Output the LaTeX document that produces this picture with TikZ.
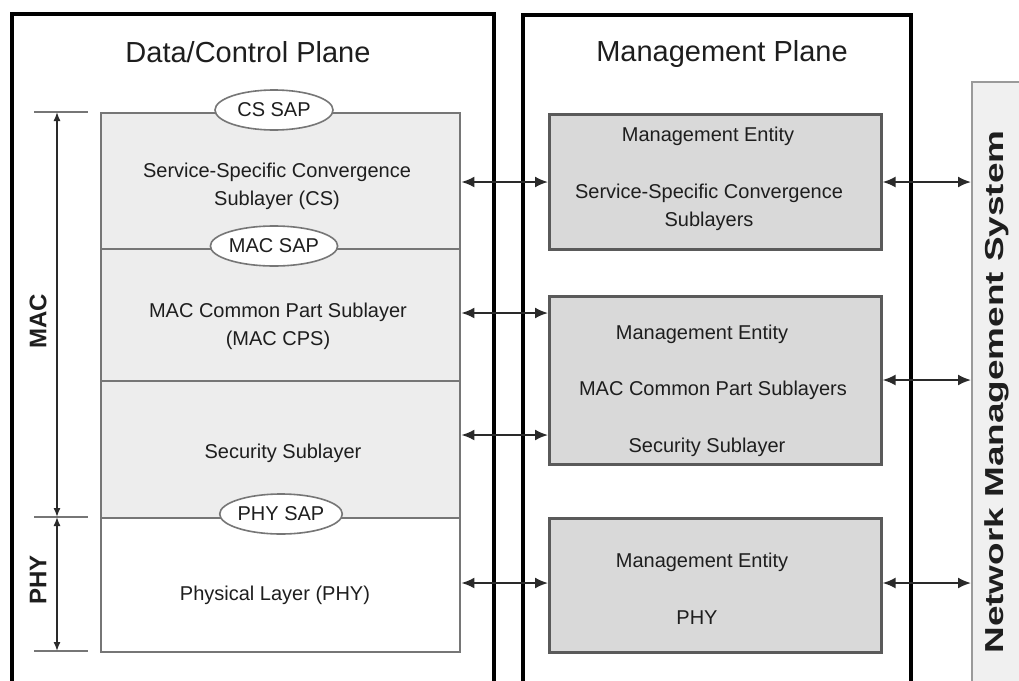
\documentclass[tikz,border=0pt]{standalone}
\usepackage{fontspec}
\setmainfont{Liberation Sans}
\usetikzlibrary{arrows.meta,shapes.geometric}
\definecolor{inkgray}{HTML}{1E1E1E}
\definecolor{linkgray}{HTML}{2A2A2A}
\definecolor{layerfill}{HTML}{EDEDED}
\definecolor{layeredge}{HTML}{767676}
\definecolor{mefill}{HTML}{D9D9D9}
\definecolor{meedge}{HTML}{5A5A5A}
\definecolor{nmsfill}{HTML}{F0F0F0}
\definecolor{nmsedge}{HTML}{9A9A9A}

\begin{document}
\begin{tikzpicture}[x=1pt,y=-1pt,
  plane/.style={draw=black,line width=4pt,anchor=north west,inner sep=0pt},
  layer/.style={draw=layeredge,line width=2.4pt,fill=layerfill,anchor=north west,minimum width=359pt,inner sep=0pt},
  mebox/.style={draw=meedge,line width=2.6pt,fill=mefill,anchor=north west,minimum width=332pt,inner sep=0pt},
  sap/.style={ellipse,draw=layeredge,line width=1.6pt,fill=white,minimum width=118pt,minimum height=40pt,inner sep=0pt,font=\fontsize{20}{24}\selectfont,text=inkgray},
  txt/.style={font=\fontsize{20}{28}\selectfont,text=inkgray,align=center,inner sep=0pt},
  title/.style={font=\fontsize{29}{34}\selectfont,text=inkgray,inner sep=0pt},
  dim/.style={draw=linkgray,line width=1.4pt,{Latex[length=9pt,width=7pt]}-{Latex[length=9pt,width=7pt]}},
  tick/.style={draw=layeredge,line width=2.2pt},
  link/.style={draw=linkgray,line width=2pt,{Latex[length=13pt,width=11pt]}-{Latex[length=13pt,width=11pt]}},
  side/.style={font=\bfseries\fontsize{24}{28}\selectfont,text=inkgray,rotate=90,inner sep=0pt},
]
\clip (0,0) rectangle (1019,680);
\fill[white] (0,0) rectangle (1019,680);

% the two planes
\node[plane,minimum width=482pt,minimum height=720pt] (dcp) at (10,12) {};
\node[plane,minimum width=388pt,minimum height=720pt] (mgp) at (521,13) {};
\node[title] (dcptitle) at (248,52) {Data/Control Plane};
\node[title] (mgptitle) at (722,54) {Management Plane};

% network management system
\node[draw=nmsedge,fill=nmsfill,line width=2pt,anchor=north west,
      minimum width=80pt,minimum height=660pt,inner sep=0pt] (nms) at (971,81) {};
\node[font=\bfseries\fontsize{26}{30}\selectfont,text=inkgray,rotate=90,inner sep=0pt]
      (nmslabel) at (997,392) {\scalebox{1.42}[1]{Network Management System}};

% protocol stack
\node[layer,minimum height=136pt] (cs)  at (100,112) {};
\node[layer,minimum height=132pt] (cps) at (100,248) {};
\node[layer,minimum height=137pt] (sec) at (100,380) {};
\node[layer,minimum height=134pt,fill=white] (phy) at (100,517) {};

\node[txt] (cstext)  at (277,186) {Service-Specific Convergence\\Sublayer (CS)};
\node[txt] (cpstext) at (278,326) {MAC Common Part Sublayer\\(MAC CPS)};
\node[txt] (sectext) at (283,453) {Security Sublayer};
\node[txt] (phytext) at (275,595) {Physical Layer (PHY)};

% service access points
\node[sap] (cssap)  at (274,110) {CS SAP};
\node[sap] (macsap) at (274,246) {MAC SAP};
\node[sap] (physap) at (281,514) {PHY SAP};

% layer extents
\coordinate (dimtop) at (57,112);
\coordinate (dimmid) at (57,517);
\coordinate (dimbot) at (57,651);
\draw[tick] (34,112) -- (88,112);
\draw[tick] (34,517) -- (88,517);
\draw[tick] (34,651) -- (88,651);
\draw[dim] (dimtop) -- (dimmid);
\draw[dim] (dimmid) -- (dimbot);
\node[side] (maclabel) at (38,321) {MAC};
\node[side] (phylabel) at (38,580) {PHY};

% management entities
\node[mebox,minimum height=135pt] (me1) at (548,113) {};
\node[mebox,minimum height=168pt] (me2) at (548,295) {};
\node[mebox,minimum height=134pt] (me3) at (548,517) {};

\node[txt] (me1a) at (708,136) {Management Entity};
\node[txt] (me1b) at (709,207) {Service-Specific Convergence\\Sublayers};
\node[txt] (me2a) at (702,334) {Management Entity};
\node[txt] (me2b) at (713,390) {MAC Common Part Sublayers};
\node[txt] (me2c) at (707,447) {Security Sublayer};
\node[txt] (me3a) at (702,562) {Management Entity};
\node[txt] (me3b) at (697,618) {PHY};

% stack to management entities
\draw[link] (cs.east |- 0,182)  -- (me1.west |- 0,182);
\draw[link] (cps.east |- 0,313) -- (me2.west |- 0,313);
\draw[link] (sec.east |- 0,435) -- (me2.west |- 0,435);
\draw[link] (phy.east |- 0,583) -- (me3.west |- 0,583);

% management entities to the management system
\draw[link] (me1.east |- 0,182) -- (nms.west |- 0,182);
\draw[link] (me2.east |- 0,380) -- (nms.west |- 0,380);
\draw[link] (me3.east |- 0,583) -- (nms.west |- 0,583);
\end{tikzpicture}
\end{document}
